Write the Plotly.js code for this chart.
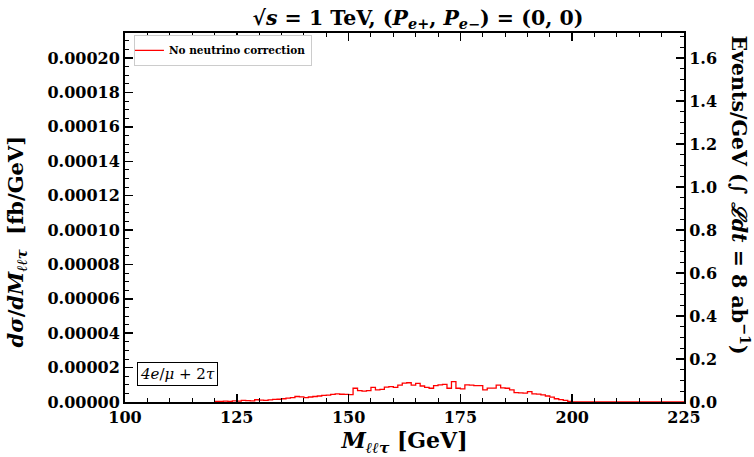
<!DOCTYPE html>
<html>
<head>
<meta charset="utf-8">
<script src="https://cdn.plot.ly/plotly-3.0.1.min.js"></script>
<style>html,body{margin:0;padding:0;background:#fff;}#chart{width:754px;height:457px;}</style>
</head>
<body>
<div id="chart"></div>
<script>
// Bin left edges (GeV), 1 GeV bins
const binEdges = [120,121,122,123,124,125,126,127,128,129,130,131,132,133,134,135,136,137,138,139,
  140,141,142,143,144,145,146,147,148,149,150,151,152,153,154,155,156,157,158,159,
  160,161,162,163,164,165,166,167,168,169,170,171,172,173,174,175,176,177,178,179,
  180,181,182,183,184,185,186,187,188,189,190,191,192,193,194,195,196,197,198,199,
  200,205,210,215,220,225];
// dσ/dM values in units of 1e-6 fb/GeV
const valuesE6 = [0.4,0.4,0.5,0.4,0.6,0.5,1.0,0.8,0.7,1.3,1.1,1.0,1.2,1.5,1.6,1.9,2.2,2.6,3.2,3.0,
  2.5,2.9,3.2,3.5,3.8,4.0,4.4,4.7,4.5,4.4,4.3,8.0,6.6,6.3,6.6,8.5,7.0,7.3,8.6,8.9,
  8.5,9.8,11.0,11.2,9.8,10.8,9.3,8.5,8.0,9.5,10.0,10.2,8.0,11.9,8.0,7.6,10.0,9.8,9.5,9.5,
  7.0,8.1,8.1,9.8,8.2,8.0,7.0,5.4,5.3,5.2,6.0,4.7,4.6,4.2,3.5,2.8,1.9,1.4,0.9,0.4,
  0.0,0.0,0.1,0.1,0.1,0.1];
const lumiFbInv = 8000;
const yMax = 0.0002146;
const xTickVals = [100,125,150,175,200,225];

const sigma = valuesE6.map(v => v * 1e-6);

const serif = 'DejaVu Serif';
const tickFont = {family: serif, size: 16, color: '#000', weight: 'bold'};

const traces = [
  {
    x: binEdges, y: sigma, type: 'scatter', mode: 'lines',
    line: {color: '#ff0000', width: 1.3, shape: 'hv'},
    name: 'No neutrino correction', hoverinfo: 'skip'
  },
  {
    x: [100], y: [0], yaxis: 'y2', type: 'scatter', mode: 'markers',
    marker: {opacity: 0}, showlegend: false, hoverinfo: 'skip'
  }
];

const layout = {
  width: 754, height: 457,
  margin: {l: 125, r: 70, t: 33, b: 55, pad: 0},
  paper_bgcolor: '#fff', plot_bgcolor: '#fff',
  showlegend: true,
  title: {
    text: '√<i>s</i> = 1 TeV, (<i>P</i><sub><i>e</i>+</sub>, <i>P</i><sub><i>e</i>−</sub>) = (0, 0)',
    font: {family: serif, size: 20.5, color: '#000', weight: 'bold'},
    xref: 'paper', x: 0.524, xanchor: 'center',
    yref: 'container', y: 0.962, yanchor: 'middle'
  },
  xaxis: {
    range: [100, 225], tickvals: xTickVals, ticktext: xTickVals.map(String),
    ticks: 'inside', ticklen: 8, tickwidth: 1.5, tickcolor: '#000',
    minor: {dtick: 5, tick0: 100, ticks: 'inside', ticklen: 4, tickwidth: 1, tickcolor: '#000'},
    showline: true, linewidth: 2, linecolor: '#000', mirror: 'ticks',
    showgrid: false, zeroline: false, tickfont: tickFont,
    title: {text: '<i>M</i><sub><i>ℓℓτ</i></sub> [GeV]', font: {family: serif, size: 22, color: '#000', weight: 'bold'}, standoff: 3}
  },
  yaxis: {
    range: [0, yMax], dtick: 0.00002, tick0: 0, tickformat: '.5f',
    ticks: 'inside', ticklen: 8, tickwidth: 1.5, tickcolor: '#000',
    minor: {dtick: 0.000005, ticks: 'inside', ticklen: 4, tickwidth: 1, tickcolor: '#000'},
    showline: true, linewidth: 2, linecolor: '#000', mirror: false,
    showgrid: false, zeroline: false, tickfont: tickFont
  },
  yaxis2: {
    overlaying: 'y', side: 'right',
    range: [0, yMax * lumiFbInv], dtick: 0.2, tick0: 0, tickformat: '.1f',
    ticks: 'inside', ticklen: 8, tickwidth: 1.5, tickcolor: '#000',
    minor: {dtick: 0.05, ticks: 'inside', ticklen: 4, tickwidth: 1, tickcolor: '#000'},
    showline: true, linewidth: 2, linecolor: '#000',
    showgrid: false, zeroline: false, tickfont: tickFont
  },
  legend: {
    x: 0.016, y: 0.995, xanchor: 'left', yanchor: 'top',
    bgcolor: '#fff', bordercolor: '#cccccc', borderwidth: 1,
    font: {family: serif, size: 10.5, color: '#000', weight: 'bold'},
    itemwidth: 30, tracegroupgap: 0, indentation: -6
  },
  annotations: [
    {
      text: '<i>4e</i>/<i>μ</i> + 2<i>τ</i>', xref: 'paper', yref: 'paper',
      x: 0.022, y: 0.075, xanchor: 'left', yanchor: 'middle', showarrow: false,
      font: {family: serif, size: 15, color: '#000'},
      bordercolor: '#000', borderwidth: 1, borderpad: 2, bgcolor: '#fff'
    },
    {
      text: '<i>dσ</i>/<i>dM</i><sub><i>ℓℓτ</i></sub>  [fb/GeV]', xref: 'paper', yref: 'paper',
      x: -0.195, y: 0.435, xanchor: 'center', yanchor: 'middle', showarrow: false, textangle: -90,
      font: {family: serif, size: 21, color: '#000', weight: 'bold'}
    },
    {
      text: 'Events/GeV (∫ <i>ℒdt</i> = 8 ab<sup>−1</sup>)', xref: 'paper', yref: 'paper',
      x: 1.1, y: 0.56, xanchor: 'center', yanchor: 'middle', showarrow: false, textangle: 90,
      font: {family: serif, size: 20.5, color: '#000', weight: 'bold'}
    }
  ]
};

Plotly.newPlot('chart', traces, layout, {staticPlot: true, displayModeBar: false});
</script>
</body>
</html>
